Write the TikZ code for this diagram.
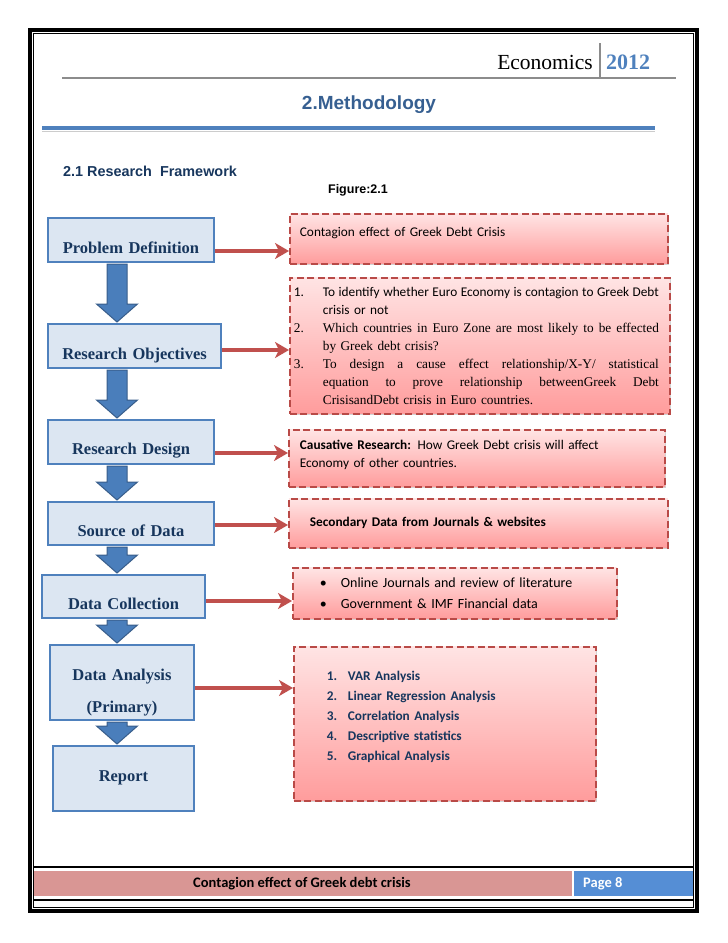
\documentclass[tikz,border=0pt]{standalone}
\usepackage{fontspec}
\setmainfont{Liberation Serif}
\newfontfamily\calibri{Carlito}
\newfontfamily\arialfont{Liberation Sans}
\usetikzlibrary{arrows.meta,calc,shadows}

\definecolor{navy}{RGB}{23,54,93}
\definecolor{headblue}{RGB}{54,95,145}
\definecolor{accblue}{RGB}{79,129,189}
\definecolor{boxblue}{RGB}{220,230,242}
\definecolor{arrowblue}{RGB}{74,126,187}
\definecolor{arrowedge}{RGB}{56,93,138}
\definecolor{arrowred}{RGB}{192,80,77}
\definecolor{dashred}{RGB}{185,74,71}
\definecolor{pinktop}{RGB}{255,228,228}
\definecolor{pinkbot}{RGB}{255,156,156}
\definecolor{footpink}{RGB}{217,150,148}
\definecolor{footblue}{RGB}{85,142,213}
\definecolor{rulegrey}{RGB}{140,140,140}

% justified line inside the objectives box
\newcommand{\spreadline}[1]{\makebox[336pt][s]{\spaceskip=.25em plus 1fil minus .08em\relax #1}}

\tikzset{
  stagebox/.style={draw=accblue, line width=2pt, fill=boxblue, inner sep=0pt, anchor=north west,
    align=center, text=navy, font=\bfseries\fontsize{16.5}{32}\selectfont},
  notebox/.style={draw=dashred, line width=1.8pt, dash pattern=on 7pt off 3.5pt,
    top color=pinktop, bottom color=pinkbot, inner ysep=0pt, anchor=north west, align=left,
    font=\calibri\fontsize{13.3}{18}\selectfont,
    drop shadow={shadow xshift=1.5pt, shadow yshift=-1.5pt, opacity=.35}},
  downarrow/.style={draw=arrowedge, line width=1pt, fill=arrowblue},
  feedarrow/.style={draw=arrowred, line width=3.5pt, -{Stealth[length=14pt,width=16pt,inset=4pt]}},
  plaintext/.style={inner sep=0pt},
}

\begin{document}
\begin{tikzpicture}[x=1pt,y=1pt,yscale=-1,xscale=1]
\useasboundingbox (0,0) rectangle (728,943);

%Shape: Page frame
\draw [line width=4pt] (30,30) rectangle (697,911);
\draw [line width=0.8pt] (33.8,33.8) rectangle (693.2,907.2);

% Text Node
\node [plaintext, anchor=base east, font=\fontsize{21.5}{24}\selectfont] (econ) at (593,69) {Economics};
% Text Node
\node [plaintext, anchor=base west, font=\bfseries\fontsize{22}{24}\selectfont, text=accblue] (year) at (606,69) {2012};
%Straight Lines
\draw [rulegrey, line width=1.5pt] (600,43) -- (600,78);
\draw [rulegrey, line width=2.2pt] (62,78) -- (676,78);

% Text Node
\node [plaintext, font=\arialfont\bfseries\fontsize{19}{22}\selectfont, text=headblue] (title) at (369,105) {2.Methodology};
%Straight Lines
\draw [accblue, line width=4pt] (42,128) -- (655,128);
\draw [black!20, line width=1pt] (42,131.5) -- (655,131.5);

% Text Node
\node [plaintext, anchor=west, font=\arialfont\bfseries\fontsize{14.4}{17}\selectfont, text=navy] (sect) at (63,171) {2.1 Research~ Framework};
% Text Node
\node [plaintext, font=\arialfont\bfseries\fontsize{12.5}{15}\selectfont] (fig) at (358,190) {Figure:2.1};

%Shape: stage boxes
\node [stagebox, text width=166pt, text height=35pt, text depth=9pt] (pd) at (47,217) {Problem Definition};
\node [stagebox, text width=173pt, text height=35pt, text depth=9pt] (ro) at (47,323) {Research Objectives};
\node [stagebox, text width=166pt, text height=34pt, text depth=10pt] (rd) at (47,419) {Research Design};
\node [stagebox, text width=166pt, text height=34pt, text depth=9pt] (sd) at (47,501) {Source of Data};
\node [stagebox, text width=163pt, text height=34pt, text depth=9pt] (dc) at (41,574) {Data Collection};
\node [stagebox, text width=144pt, text height=35pt, text depth=40pt] (da) at (49,644) {Data Analysis\\(Primary)};
\node [stagebox, text width=141pt, text height=35pt, text depth=30pt] (rp) at (52,745) {Report};

%Shape: note boxes
\node [notebox, inner xsep=10pt, text width=358pt, text height=23pt, text depth=27pt] (cA) at (289,213)
  {Contagion effect of Greek Debt Crisis};
\node [notebox, inner xsep=4pt, text width=372pt, text height=19pt, text depth=117pt] (cB) at (289,277) {%
  \makebox[29pt][l]{1.}\spreadline{To identify whether Euro Economy is contagion to Greek Debt}\\
  \hspace*{29pt}crisis or not\\
  \rmfamily\makebox[29pt][l]{2.}\spreadline{Which countries in Euro Zone are most likely to be effected}\\
  \hspace*{29pt}by Greek debt crisis?\\
  \makebox[29pt][l]{3.}\spreadline{To design a cause effect relationship/X-Y/ statistical}\\
  \hspace*{29pt}\spreadline{equation to prove relationship betweenGreek Debt}\\
  \hspace*{29pt}CrisisandDebt crisis in Euro countries.};
\node [notebox, inner xsep=11pt, text width=354pt, text height=20pt, text depth=37pt] (cC) at (288,429)
  {\textbf{Causative Research:} How Greek Debt crisis will affect\\Economy of other countries.};
\node [notebox, inner xsep=21pt, text width=337pt, text height=28pt, text depth=21pt] (cD) at (288,498)
  {\textbf{Secondary Data from Journals \& websites}};
\node [notebox, inner xsep=10pt, text width=304pt, text height=20pt, text depth=31pt,
  font=\calibri\fontsize{14}{21}\selectfont] (cE) at (292,567) {%
  \hspace*{17pt}\makebox[21pt][l]{•}Online Journals and review of literature\\
  \hspace*{17pt}\makebox[21pt][l]{•}Government \& IMF Financial data};
\node [notebox, inner xsep=10pt, text width=282pt, text height=34pt, text depth=120pt,
  font=\calibri\bfseries\fontsize{13.3}{20}\selectfont, text=navy] (cF) at (293,646) {%
  \hspace*{23pt}\makebox[21pt][l]{1.}VAR Analysis\\
  \hspace*{23pt}\makebox[21pt][l]{2.}Linear Regression Analysis\\
  \hspace*{23pt}\makebox[21pt][l]{3.}Correlation Analysis\\
  \hspace*{23pt}\makebox[21pt][l]{4.}Descriptive statistics\\
  \hspace*{23pt}\makebox[21pt][l]{5.}Graphical Analysis};

%Shape: block arrows down the stages
\coordinate (ax) at (117,0);
\foreach \a/\b in {pd/ro,ro/rd,rd/sd,sd/dc,dc/da,da/rp}
  \draw [downarrow] ($(ax |- \a.south)+(-10,1)$) -- ($(ax |- \b.north)+(-10,-19)$) -- ++(-10.5,0)
    -- ($(ax |- \b.north)+(0,-1)$) -- ($(ax |- \b.north)+(20.5,-19)$) -- ++(-10.5,0)
    -- ($(ax |- \a.south)+(10,1)$) -- cycle;

%Straight Lines: stage to note
\foreach \a/\b/\dy in {pd/cA/11,ro/cB/4,rd/cC/11,sd/cD/1.5,dc/cE/4.5,da/cF/5.5}{
  \path ($(\a.east)+(0,\dy)$) coordinate (fs);
  \draw [feedarrow] (fs) -- (fs -| \b.west);
}

%Shape: footer
\draw [line width=1.2pt] (34,867) -- (693,867);
\draw [line width=1.2pt] (34,900) -- (693,900);
\fill [footpink] (34,871) rectangle (572,896);
\fill [footblue] (574,871) rectangle (693,896);
% Text Node
\node [plaintext, font=\calibri\bfseries\fontsize{14.5}{17}\selectfont] (foot) at (302,884) {Contagion effect of Greek debt crisis};
% Text Node
\node [plaintext, anchor=west, text=white, font=\calibri\bfseries\fontsize{14.5}{17}\selectfont] (page) at (583,884) {Page 8};
\end{tikzpicture}
\end{document}
